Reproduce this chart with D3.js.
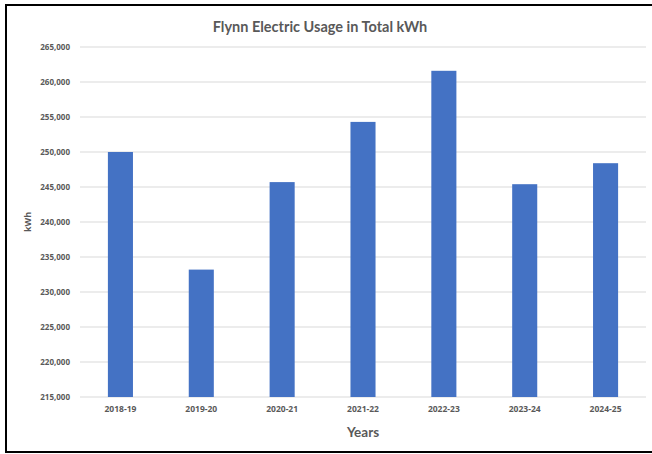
<!DOCTYPE html>
<html lang="en">
<head>
    <meta charset="UTF-8">
    <title>Flynn Electric Usage in Total kWh</title>
    <script src="https://d3js.org/d3.v7.min.js"></script>
    <style>
        body {
            margin: 0;
            background: #fff;
            font-family: "Open Sans", Arial, sans-serif;
        }
        svg text {
            fill: #595959;
            font-weight: bold;
        }
    </style>
</head>
<body>
    <div id="chart"></div>

    <script>
        // values
        const years = ["2018-19", "2019-20", "2020-21", "2021-22", "2022-23", "2023-24", "2024-25"];
        const usage = [250000, 233200, 245700, 254300, 261600, 245400, 248400];
        const yTicks = [215000, 220000, 225000, 230000, 235000, 240000, 245000, 250000, 255000, 260000, 265000];

        const width = 652;
        const height = 454;
        const margin = { top: 47, right: 6, bottom: 57, left: 80 };

        const svg = d3.select("#chart")
            .append("svg")
            .attr("width", width)
            .attr("height", height);

        // frame round the chart (right side runs off the picture)
        svg.append("rect")
            .attr("x", 6)
            .attr("y", 5)
            .attr("width", 660)
            .attr("height", 447)
            .attr("fill", "none")
            .attr("stroke", "#000")
            .attr("stroke-width", 2);

        const x = d3.scaleBand()
            .domain(years)
            .range([margin.left, width - margin.right])
            .paddingInner(0.69)
            .paddingOuter(0.345);

        const y = d3.scaleLinear()
            .domain([215000, 265000])
            .range([height - margin.bottom, margin.top]);

        // gridlines
        svg.append("g")
            .selectAll("line")
            .data(yTicks)
            .join("line")
            .attr("x1", margin.left)
            .attr("x2", width - margin.right)
            .attr("y1", d => y(d))
            .attr("y2", d => y(d))
            .attr("stroke", "#d9d9d9")
            .attr("stroke-width", 1);

        // bars
        svg.append("g")
            .selectAll("rect")
            .data(years)
            .join("rect")
            .attr("x", d => x(d))
            .attr("width", x.bandwidth())
            .attr("y", (d, i) => y(usage[i]))
            .attr("height", (d, i) => y(215000) - y(usage[i]))
            .attr("fill", "#4472c4");

        // y axis
        const yAxis = svg.append("g")
            .attr("transform", `translate(${margin.left - 10},0)`)
            .call(d3.axisLeft(y).tickValues(yTicks).tickFormat(d3.format(",")).tickSize(0));
        yAxis.select(".domain").remove();
        yAxis.selectAll("text")
            .attr("x", 0)
            .style("font-size", "8px")
            .style("font-family", "Open Sans, sans-serif");

        // x axis
        const xAxis = svg.append("g")
            .attr("transform", `translate(0,${height - margin.bottom})`)
            .call(d3.axisBottom(x).tickSize(0));
        xAxis.select(".domain").remove();
        xAxis.selectAll("text")
            .attr("dy", "1.45em")
            .style("font-size", "8.5px")
            .style("font-family", "Open Sans, sans-serif");

        // titles
        svg.append("text")
            .attr("x", 320)
            .attr("y", 32)
            .attr("text-anchor", "middle")
            .style("font-size", "14.5px")
            .style("font-family", "Lato, sans-serif")
            .text("Flynn Electric Usage in Total kWh");

        svg.append("text")
            .attr("x", (margin.left + width - margin.right) / 2)
            .attr("y", 437)
            .attr("text-anchor", "middle")
            .style("font-size", "13.5px")
            .style("font-family", "Lato, sans-serif")
            .text("Years");

        svg.append("text")
            .attr("transform", `translate(31,${(margin.top + height - margin.bottom) / 2}) rotate(-90)`)
            .attr("text-anchor", "middle")
            .style("font-size", "9px")
            .style("font-family", "Open Sans, sans-serif")
            .text("kWh");
    </script>
</body>
</html>
